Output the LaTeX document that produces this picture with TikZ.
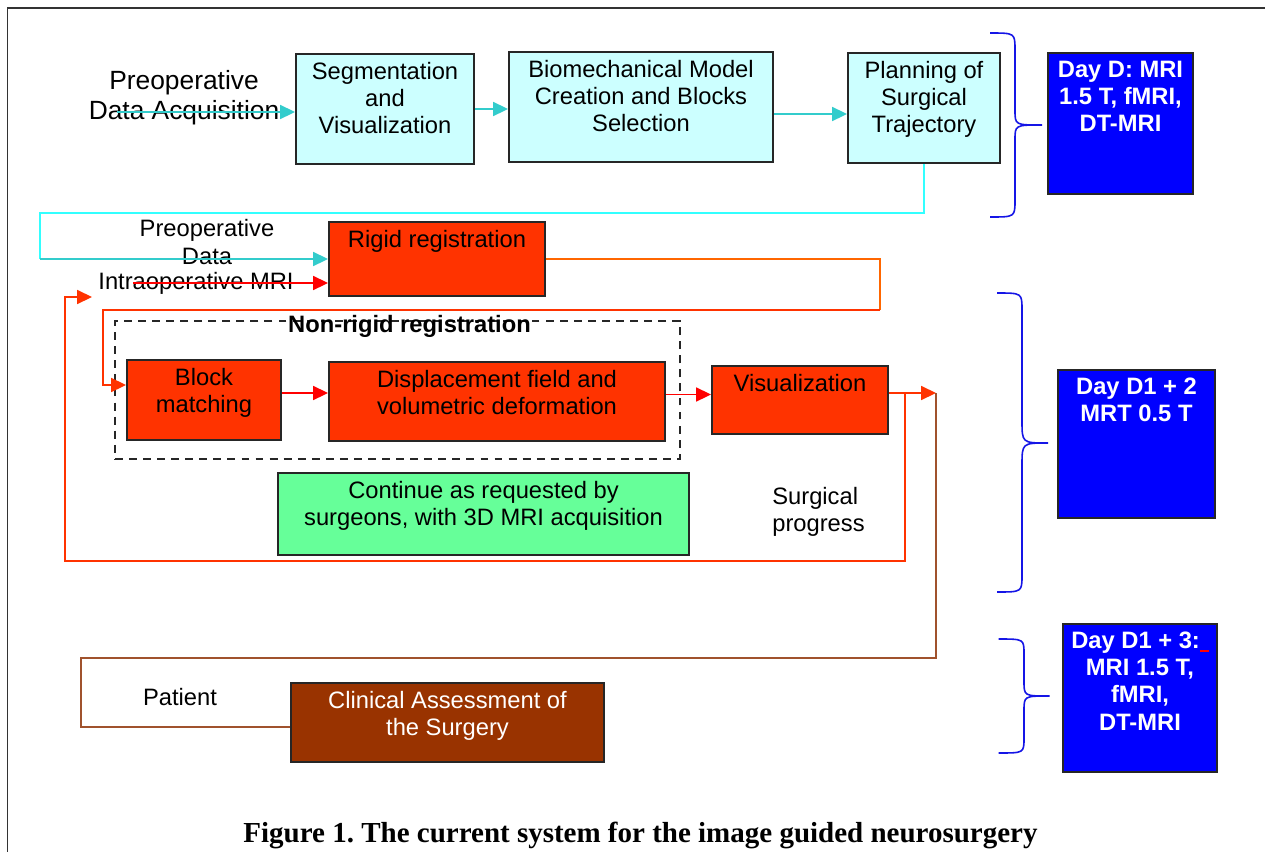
\documentclass[tikz,border=0pt]{standalone}
\usepackage{fontspec}
\setmainfont{Liberation Sans}
\newfontfamily\capfont{Liberation Serif}
\usepackage{tikz}
\usetikzlibrary{arrows.meta,positioning,calc}
\frenchspacing
\definecolor{boxcyan}{HTML}{CCFFFF}
\definecolor{boxred}{HTML}{FF3300}
\definecolor{boxgreen}{HTML}{66FF99}
\definecolor{boxblue}{HTML}{0000FF}
\definecolor{boxbrown}{HTML}{993300}
\definecolor{arteal}{HTML}{33CCCC}
\definecolor{lncyan}{HTML}{33FFFF}
\definecolor{arorange}{HTML}{FF6600}
\definecolor{arredor}{HTML}{FF3300}
\definecolor{arred}{HTML}{FF0000}
\definecolor{lnbrown}{HTML}{A0522D}
\definecolor{brcblue}{HTML}{1515E6}
\newcommand{\fs}{\fontsize{13.5}{15.5}\selectfont}
\tikzset{
  box/.style   = {draw=black!85, line width=1.1pt, inner sep=0pt},
  cbox/.style  = {box, fill=boxcyan},
  rbox/.style  = {box, fill=boxred},
  gbox/.style  = {box, fill=boxgreen},
  dbox/.style  = {box, fill=boxblue},
  kbox/.style  = {box, fill=boxbrown},
  wh/.style 2 args = {minimum width=#1, minimum height=#2},
  txt/.style   = {font=\fs, align=center, inner sep=0pt},
  btxt/.style  = {txt, anchor=north, yshift=-4.8pt},
  dtxt/.style  = {btxt, font=\fs\bfseries, text=white},
  ar/.style    = {-{Triangle[length=8.5pt,width=8pt]}, line width=0.9pt},
  ln/.style    = {line width=0.9pt},
  brc/.style   = {line width=0.9pt, draw=brcblue},
}

\begin{document}
\begin{tikzpicture}
  \useasboundingbox (0,0) rectangle (25.30,-17.02);
  \clip (0,0) rectangle (25.30,-17.02);
  \fill[white] (0,0) rectangle (25.30,-17.02);
  \draw[line width=0.9pt, black!80] (0.15,-0.16) rectangle (26,-18);

  % day D: preoperative chain
  \node[txt, font=\fontsize{15}{17}\selectfont] (acqT) at (3.68,-1.96) {Preoperative\\Data Acquisition};
  \node[cbox, wh={3.56cm}{2.2cm}] (seg) at (7.70,-2.18) {};
  \node[btxt] (segT) at (seg.north) {Segmentation\\and\\Visualization};
  \node[cbox, wh={5.28cm}{2.2cm}] (bio) at (12.82,-2.14) {};
  \node[btxt] (bioT) at (bio.north) {Biomechanical Model\\Creation and Blocks\\Selection};
  \node[cbox, wh={3.04cm}{2.2cm}] (plan) at (18.48,-2.16) {};
  \node[btxt] (planT) at (plan.north) {Planning of\\Surgical\\Trajectory};
  \node[dbox, wh={2.90cm}{2.82cm}] (dayD) at (22.41,-2.47) {};
  \node[dtxt] (dayDT) at (dayD.north) {Day D: MRI\\1.5 T, fMRI,\\DT-MRI};

  \coordinate (acq) at (2.34,-2.24);
  \draw[ar, arteal] (acq) -- (acq -| seg.west);
  \draw[ar, arteal] (seg.east) -- (seg.east -| bio.west);
  \draw[ar, arteal] ([yshift=-0.14cm]bio.east) -- ([yshift=-0.14cm]bio.east -| plan.west);

  % day D1+2: intraoperative
  \node[rbox, wh={4.32cm}{1.48cm}] (rigid) at (8.74,-5.18) {};
  \node[btxt] (rigidT) at (rigid.north) {Rigid registration};
  \node[txt] (pdT) at (4.14,-4.84) {Preoperative\\Data};
  \node[txt] (mriT) at (3.92,-5.66) {Intraoperative MRI};

  \coordinate (pdL) at (0.80,-4.26);
  \draw[ln, lncyan] (plan.south) |- (pdL) -- (pdL |- rigid.west);
  \draw[ar, arteal] (pdL |- rigid.west) -- (rigid.west);
  \coordinate (mri) at (2.66,-5.66);
  \draw[ar, arred] (mri) -- (mri -| rigid.west);

  \node[draw=black!85, line width=0.9pt, dash pattern=on 4.5pt off 3.5pt, wh={11.30cm}{2.76cm}] (nonrig) at (7.95,-7.80) {};
  \node[txt, font=\fs\bfseries] (nonrigT) at (8.19,-6.52) {Non-rigid registration};
  \node[rbox, wh={3.08cm}{1.60cm}] (block) at (4.08,-8.00) {};
  \node[btxt] (blockT) at (block.north) {Block\\matching};
  \node[rbox, wh={6.72cm}{1.58cm}] (disp) at (9.94,-8.03) {};
  \node[btxt] (dispT) at (disp.north) {Displacement field and\\volumetric deformation};
  \node[rbox, wh={3.52cm}{1.36cm}] (vis) at (16.00,-8.00) {};
  \node[btxt] (visT) at (vis.north) {Visualization};
  \node[gbox, wh={8.22cm}{1.64cm}] (cont) at (9.67,-10.28) {};
  \node[btxt] (contT) at (cont.north) {Continue as requested by\\surgeons, with 3D MRI acquisition};
  \node[txt, anchor=west, align=left] (prgT) at (15.44,-10.24) {Surgical\\progress};
  \node[dbox, wh={3.14cm}{2.96cm}] (dayA) at (22.73,-8.88) {};
  \node[dtxt] (dayAT) at (dayA.north) {Day D1 + 2\\MRT 0.5 T};

  \coordinate (r1) at (17.60,-6.20);
  \coordinate (r2) at (2.06,-7.70);
  \draw[ln, arorange] (rigid.east) -| (r1);
  \draw[ar, arredor] (r1) -| (r2) -- (r2 -| block.west);
  \draw[ar, arred] ([yshift=0.14cm]block.east) -- ([yshift=0.14cm]block.east -| disp.west);
  \draw[ar, arred] ([yshift=0.14cm]disp.east) -- ([yshift=0.14cm]disp.east -| vis.west);
  \coordinate (visO) at (18.72,-7.86);
  \draw[ar, arredor] ([yshift=0.14cm]vis.east) -- (visO);
  \coordinate (prg) at (18.10,-7.86);
  \coordinate (fbL) at (1.30,-11.22);
  \coordinate (fbE) at (1.84,-5.94);
  \draw[ar, arredor] (prg) |- (fbL) |- (fbE);

  % day D1+3: postoperative
  \node[kbox, wh={6.26cm}{1.58cm}] (clin) at (8.95,-14.45) {};
  \node[btxt, text=white] (clinT) at (clin.north) {Clinical Assessment of\\the Surgery};
  \node[txt] (patT) at (3.60,-13.94) {Patient};
  \node[dbox, wh={3.08cm}{2.96cm}] (dayB) at (22.80,-13.96) {};
  \node[dtxt] (dayBT) at (dayB.north) {Day D1 + 3:\textcolor{red}{\rule[-2pt]{5pt}{1.2pt}}\\MRI 1.5 T,\\fMRI,\\DT-MRI};

  \coordinate (b1) at (1.62,-13.16);
  \coordinate (b2) at (1.62,-14.54);
  \draw[ln, lnbrown] (visO) |- (b1) -- (b2) -- (b2 -| clin.west);

  % braces
  \draw[brc] (19.80,-0.66) .. controls (20.30,-0.66) .. (20.30,-1.00) -- (20.30,-2.20)
    .. controls (20.30,-2.50) .. (20.84,-2.50) .. controls (20.30,-2.50) .. (20.30,-2.80)
    -- (20.30,-4.00) .. controls (20.30,-4.34) .. (19.80,-4.34);
  \draw[brc] (19.94,-5.86) .. controls (20.44,-5.86) .. (20.44,-6.20) -- (20.44,-8.41)
    .. controls (20.44,-8.86) .. (20.96,-8.86) .. controls (20.44,-8.86) .. (20.44,-9.31)
    -- (20.44,-11.50) .. controls (20.44,-11.84) .. (19.94,-11.84);
  \draw[brc] (19.97,-12.78) .. controls (20.48,-12.78) .. (20.48,-13.08) -- (20.48,-13.62)
    .. controls (20.48,-13.92) .. (20.99,-13.92) .. controls (20.48,-13.92) .. (20.48,-14.22)
    -- (20.48,-14.76) .. controls (20.48,-15.06) .. (19.97,-15.06);

  \node[font=\capfont\bfseries\fontsize{16.5}{18}\selectfont, inner sep=0pt] (cap) at (12.81,-16.70)
    {Figure 1. The current system for the image guided neurosurgery};
\end{tikzpicture}
\end{document}
